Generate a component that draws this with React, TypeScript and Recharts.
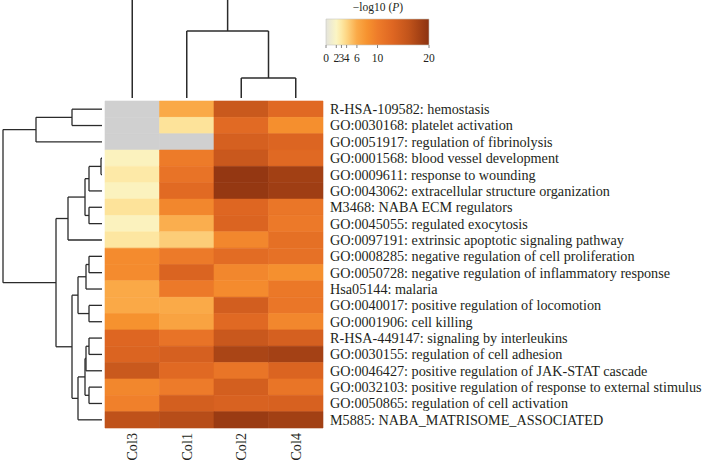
import React from "react";
import { ReferenceArea, ReferenceLine, ScatterChart, XAxis, YAxis } from "recharts";

const ROW_LABELS = [
  "R-HSA-109582: hemostasis",
  "GO:0030168: platelet activation",
  "GO:0051917: regulation of fibrinolysis",
  "GO:0001568: blood vessel development",
  "GO:0009611: response to wounding",
  "GO:0043062: extracellular structure organization",
  "M3468: NABA ECM regulators",
  "GO:0045055: regulated exocytosis",
  "GO:0097191: extrinsic apoptotic signaling pathway",
  "GO:0008285: negative regulation of cell proliferation",
  "GO:0050728: negative regulation of inflammatory response",
  "Hsa05144: malaria",
  "GO:0040017: positive regulation of locomotion",
  "GO:0001906: cell killing",
  "R-HSA-449147: signaling by interleukins",
  "GO:0030155: regulation of cell adhesion",
  "GO:0046427: positive regulation of JAK-STAT cascade",
  "GO:0032103: positive regulation of response to external stimulus",
  "GO:0050865: regulation of cell activation",
  "M5885: NABA_MATRISOME_ASSOCIATED",
];

const COL_LABELS = ["Col3", "Col1", "Col2", "Col4"];

// -log10(P) per column, in row order (null = no value)
const COL3 = [null, null, null, 2.2, 2.9, 2.2, 3.3, 2.2, 3.1, 8.6, 8.6, 6.1, 6.1, 8.0, 13.0, 13.3, 15.2, 9.0, 9.6, 16.2];
const COL1 = [6.1, 3.3, null, 10.2, 11.2, 12.5, 9.0, 5.8, 4.4, 10.3, 13.4, 10.4, 6.0, 6.6, 11.2, 14.0, 12.6, 10.1, 14.2, 16.8];
const COL2 = [15.2, 12.4, 14.0, 15.3, 19.4, 19.3, 13.0, 13.3, 9.0, 12.2, 9.0, 8.6, 14.3, 12.6, 15.3, 17.8, 11.0, 14.2, 13.6, 19.0];
const COL4 = [12.6, 8.3, 13.2, 12.6, 18.4, 18.6, 10.8, 10.4, 11.7, 11.5, 8.2, 10.6, 10.8, 9.0, 14.0, 18.2, 13.3, 11.0, 13.8, 18.4];
const COLUMNS = [COL3, COL1, COL2, COL4];

// linkage rows: [childA, childB, height]; ids >= n are earlier merges
const ROW_LINKAGE: [number, number, number][] = [
  [0, 1, 3.0],
  [20, 2, 6.6],
  [3, 4, 0.1],
  [22, 5, 1.3],
  [6, 7, 1.3],
  [23, 24, 1.7],
  [25, 8, 3.4],
  [9, 10, 1.3],
  [27, 11, 1.6],
  [12, 13, 1.3],
  [28, 29, 2.4],
  [14, 15, 1.3],
  [31, 16, 1.6],
  [17, 18, 1.3],
  [32, 33, 1.7],
  [34, 19, 2.4],
  [30, 35, 3.0],
  [26, 36, 4.6],
  [21, 37, 9.9],
];

const COL_LINKAGE: [number, number, number][] = [
  [2, 3, 2.0],
  [1, 4, 6.7],
  [0, 5, 11.0],
];

const SCALE_STOPS = [0, 2, 3, 4, 6, 8, 10, 13, 16, 20];
const SCALE_COLORS = ["#e4e4dc", "#fbf5c4", "#fde8a4", "#fdd684", "#faaa48", "#f6922f", "#ee7c2a", "#de6622", "#c2541b", "#8c3210"];
const LEGEND_TICKS = [0, 2, 3, 4, 6, 10, 20];
const NA_COLOR = "#d0d0d0";

const hex = (c: string) => [1, 3, 5].map((i) => parseInt(c.slice(i, i + 2), 16));

function colorFor(v: number | null) {
  if (v == null) return NA_COLOR;
  let i = 0;
  while (i < SCALE_STOPS.length - 2 && v > SCALE_STOPS[i + 1]) i++;
  const t = Math.min(1, Math.max(0, (v - SCALE_STOPS[i]) / (SCALE_STOPS[i + 1] - SCALE_STOPS[i])));
  const a = hex(SCALE_COLORS[i]);
  const b = hex(SCALE_COLORS[i + 1]);
  const m = a.map((x, k) => Math.round(x + (b[k] - x) * t));
  return `rgb(${m[0]},${m[1]},${m[2]})`;
}

// returns [pos1, h1, pos2, h2] segments of the dendrogram
function treeSegments(linkage: [number, number, number][], n: number) {
  const pos: number[] = [];
  const hgt: number[] = [];
  for (let i = 0; i < n; i++) {
    pos[i] = i + 0.5;
    hgt[i] = 0;
  }
  const segs: number[][] = [];
  linkage.forEach(([a, b, h], k) => {
    pos[n + k] = (pos[a] + pos[b]) / 2;
    hgt[n + k] = h;
    segs.push([pos[a], hgt[a], pos[a], h]);
    segs.push([pos[a], h, pos[b], h]);
    segs.push([pos[b], hgt[b], pos[b], h]);
  });
  return segs;
}

const TEXT = "#231f20";
const FONT = '"Liberation Serif", "Times New Roman", serif';
const LINE = "#2b2b2b";
const LABEL_SIZE = 14.2;

const RowTick = ({ x, y, payload }: any) => (
  <text x={x} y={y} dy="0.35em" textAnchor="start" fontSize={LABEL_SIZE} fill={TEXT} fontFamily={FONT}>
    {ROW_LABELS[Math.floor(payload.value)]}
  </text>
);

const ColTick = ({ x, y, payload }: any) => (
  <text
    transform={`translate(${x},${y}) rotate(-90)`}
    dy="0.35em"
    textAnchor="end"
    fontSize={LABEL_SIZE}
    fill={TEXT}
    fontFamily={FONT}
  >
    {COL_LABELS[Math.floor(payload.value)]}
  </text>
);

export default function App() {
  const rowTree = treeSegments(ROW_LINKAGE, ROW_LABELS.length);
  const colTree = treeSegments(COL_LINKAGE, COL_LABELS.length);
  const rowTicks = ROW_LABELS.map((_, i) => i + 0.5);
  const colTicks = COL_LABELS.map((_, i) => i + 0.5);

  return (
    <div
      style={{
        position: "absolute",
        left: 0,
        top: 0,
        width: 709,
        height: 462,
        overflow: "hidden",
        background: "#fff",
        fontFamily: FONT,
      }}
    >
      {/* heatmap + labels */}
      <div style={{ position: "absolute", left: 0, top: 0 }}>
        <ScatterChart width={709} height={462} margin={{ top: 101, right: 0, bottom: 0, left: 105 }}>
          <XAxis
            type="number"
            dataKey="x"
            domain={[0, 4]}
            ticks={colTicks}
            interval={0}
            height={34}
            axisLine={false}
            tickLine={false}
            tickSize={0}
            tickMargin={5}
            tick={<ColTick />}
            allowDataOverflow
          />
          <YAxis
            type="number"
            dataKey="y"
            orientation="right"
            domain={[0, 20]}
            reversed
            ticks={rowTicks}
            interval={0}
            width={386}
            axisLine={false}
            tickLine={false}
            tickSize={0}
            tickMargin={7}
            tick={<RowTick />}
            allowDataOverflow
          />
          {COLUMNS.map((col, c) =>
            col.map((v, r) => (
              <ReferenceArea
                key={`${c}-${r}`}
                x1={c}
                x2={c + 1}
                y1={r}
                y2={r + 1}
                fill={colorFor(v)}
                fillOpacity={1}
                stroke={colorFor(v)}
                strokeWidth={0.6}
                ifOverflow="visible"
              />
            ))
          )}
        </ScatterChart>
      </div>

      {/* row dendrogram */}
      <div style={{ position: "absolute", left: 0, top: 0 }}>
        <ScatterChart width={105} height={462} margin={{ top: 101, right: 3, bottom: 34, left: 0 }}>
          <XAxis type="number" dataKey="x" domain={[0, 10.2]} reversed hide allowDataOverflow />
          <YAxis type="number" dataKey="y" domain={[0, 20]} reversed hide allowDataOverflow />
          {rowTree.map((s, i) => (
            <ReferenceLine
              key={i}
              segment={[
                { x: s[1], y: s[0] },
                { x: s[3], y: s[2] },
              ]}
              stroke={LINE}
              strokeWidth={1.3}
              ifOverflow="visible"
            />
          ))}
        </ScatterChart>
      </div>

      {/* column dendrogram */}
      <div style={{ position: "absolute", left: 0, top: 0 }}>
        <ScatterChart width={323} height={98} margin={{ top: 0, right: 0, bottom: 0, left: 105 }}>
          <XAxis type="number" dataKey="x" domain={[0, 4]} hide allowDataOverflow />
          <YAxis type="number" dataKey="y" domain={[0, 9.8]} hide allowDataOverflow />
          {colTree.map((s, i) => (
            <ReferenceLine
              key={i}
              segment={[
                { x: s[0], y: s[1] },
                { x: s[2], y: s[3] },
              ]}
              stroke={LINE}
              strokeWidth={1.5}
              ifOverflow="visible"
            />
          ))}
        </ScatterChart>
      </div>

      {/* colour legend */}
      <div
        style={{
          position: "absolute",
          left: 326,
          top: 0,
          width: 104,
          textAlign: "center",
          fontSize: 11.5,
          lineHeight: "14px",
          color: TEXT,
        }}
      >
        −log10 (<i>P</i>)
      </div>
      <div style={{ position: "absolute", left: 300, top: 0 }}>
        <ScatterChart width={160} height={75} margin={{ top: 19, right: 31, bottom: 0, left: 26 }}>
          <defs>
            <linearGradient id="scaleGrad" x1="0" y1="0" x2="1" y2="0">
              {SCALE_STOPS.map((s, i) => (
                <stop key={s} offset={`${(s / 20) * 100}%`} stopColor={SCALE_COLORS[i]} />
              ))}
            </linearGradient>
          </defs>
          <XAxis
            type="number"
            dataKey="x"
            domain={[0, 20]}
            ticks={LEGEND_TICKS}
            interval={0}
            height={30}
            axisLine={false}
            tickLine={{ stroke: "#666", strokeWidth: 0.8 }}
            tickSize={3}
            tickMargin={6}
            tick={{ fontSize: 11.5, fill: TEXT, fontFamily: FONT }}
            allowDataOverflow
          />
          <YAxis type="number" dataKey="y" domain={[0, 1]} hide allowDataOverflow />
          <ReferenceArea
            x1={0}
            x2={20}
            y1={0}
            y2={1}
            fill="url(#scaleGrad)"
            fillOpacity={1}
            stroke="#c8c8c0"
            strokeWidth={0.6}
            ifOverflow="visible"
          />
        </ScatterChart>
      </div>
    </div>
  );
}
